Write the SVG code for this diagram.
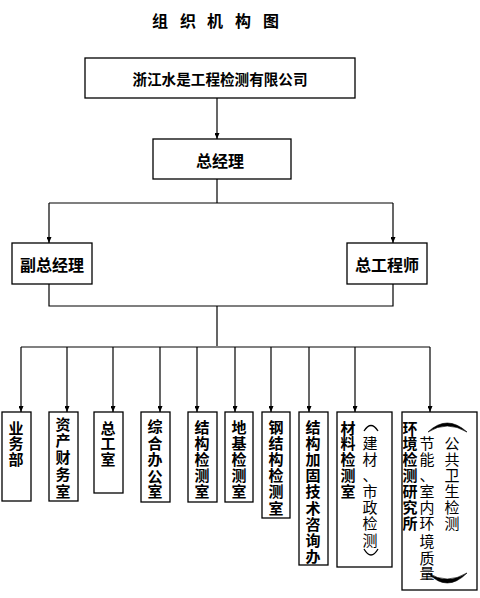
<svg xmlns="http://www.w3.org/2000/svg" width="480" height="598" viewBox="0 0 480 598">
<style>
.b{fill:#fff;stroke:#000;stroke-width:1.3}
.t{font-family:"Noto Sans CJK SC",sans-serif;font-size:15px;font-weight:bold;fill:#000;text-anchor:middle;dominant-baseline:central}
.n{font-weight:normal}
.arc{fill:#000;stroke:#000;stroke-width:0.6}
.sarc{fill:none;stroke:#000;stroke-width:1.3}
.c{fill:none;stroke:#000;stroke-width:1.2}
.bus{fill:none;stroke:#808080;stroke-width:2}
.ttl{font-family:"Noto Sans CJK SC",serif;font-size:16px;font-weight:bold;text-anchor:middle;dominant-baseline:central}
</style>
<defs>
<marker id="ah" viewBox="0 0 6 5" refX="6" refY="2.5" markerWidth="6" markerHeight="5" orient="auto" markerUnits="userSpaceOnUse">
<path d="M0,0 L6,2.5 L0,5 Z" fill="#000"/>
</marker>
</defs>
<rect width="480" height="598" fill="#fff"/>
<text class="ttl" x="160 188 215 243 271" y="20">组织机构图</text>

<g id="connectors">
<path class="c" d="M217,98 V139" marker-end="url(#ah)"/>
<path class="c" d="M217,179 V203 M49,203 H393"/>
<path class="c" d="M49,203 V243" marker-end="url(#ah)"/>
<path class="c" d="M393,203 V243" marker-end="url(#ah)"/>
<path class="c" d="M49,284 V306 H393 V284 M217,306 V347"/>
<path class="bus" d="M21,347 H430"/>
<path class="c" d="M21,347 V412" marker-end="url(#ah)"/>
<path class="c" d="M67,347 V412" marker-end="url(#ah)"/>
<path class="c" d="M113,347 V412" marker-end="url(#ah)"/>
<path class="c" d="M160,347 V412" marker-end="url(#ah)"/>
<path class="c" d="M197,347 V412" marker-end="url(#ah)"/>
<path class="c" d="M235,347 V412" marker-end="url(#ah)"/>
<path class="c" d="M271,347 V412" marker-end="url(#ah)"/>
<path class="c" d="M309,347 V412" marker-end="url(#ah)"/>
<path class="c" d="M355,347 V412" marker-end="url(#ah)"/>
<path class="c" d="M430,347 V412" marker-end="url(#ah)"/>
</g>

<g id="company">
<rect class="b" x="85" y="58" width="270" height="40"/>
<text class="t" x="220" y="78" style="font-size:14.6px">浙江水是工程检测有限公司</text>
</g>
<g id="gm">
<rect class="b" x="153" y="139" width="138" height="40"/>
<text class="t" x="220" y="160" style="font-size:16px">总经理</text>
</g>
<g id="vgm">
<rect class="b" x="12" y="243" width="80" height="41"/>
<text class="t" x="52" y="264" style="font-size:16px">副总经理</text>
</g>
<g id="ce">
<rect class="b" x="347" y="243" width="80" height="41"/>
<text class="t" x="387" y="264" style="font-size:16px">总工程师</text>
</g>

<g id="d1">
<rect class="b" x="2" y="412" width="29" height="89"/>
<text class="t" x="16 16 16" y="427 442 458">业务部</text>
</g>
<g id="d2">
<rect class="b" x="49" y="412" width="29" height="89"/>
<text class="t" x="63 63 63 63 63" y="423 439 456 473 490">资产财务室</text>
</g>
<g id="d3">
<rect class="b" x="94" y="412" width="29" height="81"/>
<text class="t" x="108 108 108" y="427 442 458">总工室</text>
</g>
<g id="d4">
<rect class="b" x="141" y="412" width="29" height="90"/>
<text class="t" x="155 155 155 155 155" y="425 442 458 475 490">综合办公室</text>
</g>
<g id="d5">
<rect class="b" x="188" y="412" width="29" height="90"/>
<text class="t" x="202 202 202 202 202" y="426 442 458 474 490">结构检测室</text>
</g>
<g id="d6">
<rect class="b" x="225" y="412" width="28" height="90"/>
<text class="t" x="239 239 239 239 239" y="426 442 458 474 490">地基检测室</text>
</g>
<g id="d7">
<rect class="b" x="262" y="412" width="28" height="106"/>
<text class="t" x="276 276 276 276 276 276" y="426 442 458 474 490 507">钢结构检测室</text>
</g>
<g id="d8">
<rect class="b" x="299" y="412" width="29" height="153"/>
<text class="t" x="313 313 313 313 313 313 313 313 313" y="426 442 458 474 490 507 523 539 555">结构加固技术咨询办</text>
</g>
<g id="d9">
<rect class="b" x="337" y="412" width="55" height="155"/>
<text class="t" x="348 348 348 348 348" y="427 442 458 474 490">材料检测室</text>
<path class="sarc" d="M364,431 Q371,420 378,431"/>
<text class="t n" x="370 370 370 370 370 370 370" y="442 458 474 490 506 522 539">建材、市政检测</text>
<path class="sarc" d="M364,549 Q371,561 378,549"/>
</g>
<g id="d10">
<rect class="b" x="402" y="412" width="75" height="178"/>
<text class="t" x="410 410 410 410 410 410 410" y="427 442 458 474 490 506 522">环境检测研究所</text>
<text class="t n" x="427 427 427 427 427 427 427 427 427" y="442 458 474 490 506 522 540 557 572">节能、室内环境质量</text>
<text class="t n" x="452 452 452 452 452 452" y="442 458 474 490 506 522">公共卫生检测</text>
<path class="arc" d="M428,432 Q447,414 467,432 Q447,420 428,432 Z"/>
<path class="arc" d="M428,573 Q447,593 467,573 Q447,585 428,573 Z"/>
</g>
</svg>
